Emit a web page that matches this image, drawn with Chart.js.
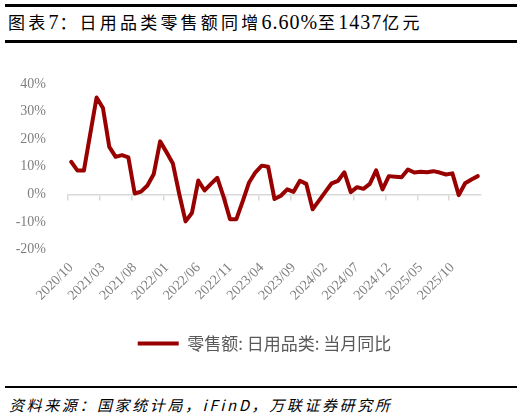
<!DOCTYPE html>
<html>
<head>
<meta charset="utf-8">
<script src="https://cdn.jsdelivr.net/npm/chart.js@4.4.1/dist/chart.umd.min.js"></script>
<style>
  body { margin:0; background:#fff; width:529px; height:419px; overflow:hidden; position:relative; }
  .rule { position:absolute; left:5px; width:512px; background:#000; }
  #title { position:absolute; left:8px; top:9px; white-space:nowrap; color:#000; }
  #title .cn { font-family:"Noto Sans CJK SC"; font-size:17px; letter-spacing:3.2px; }
  #title .num { font-family:"Liberation Serif"; font-size:20px; letter-spacing:1px; }
  #box { position:absolute; left:0; top:44px; width:529px; height:318px; }
  #source { position:absolute; left:9px; top:394px; font-family:"Noto Sans CJK SC"; font-size:15px; font-style:italic; letter-spacing:2.6px; color:#000; white-space:nowrap; }
</style>
</head>
<body>
<div class="rule" style="top:4px;height:2.5px"></div>
<div id="title"><span class="cn">图表</span><span class="num">7</span><span class="cn">：日用品类零售额同增</span><span class="num">6.60%</span><span class="cn">至</span><span class="num">1437</span><span class="cn">亿元</span></div>
<div class="rule" style="top:40px;height:2.5px"></div>
<div id="box"><canvas id="chart"></canvas></div>
<div class="rule" style="top:385.5px;height:2.5px"></div>
<div id="source">资料来源：国家统计局，iFinD，万联证券研究所</div>
<script>
// months on the category axis, one label shown every 5
const months = [
  "2020/10","2020/11","2020/12","2021/01","2021/02","2021/03","2021/04","2021/05","2021/06","2021/07",
  "2021/08","2021/09","2021/10","2021/11","2021/12","2022/01","2022/02","2022/03","2022/04","2022/05",
  "2022/06","2022/07","2022/08","2022/09","2022/10","2022/11","2022/12","2023/01","2023/02","2023/03",
  "2023/04","2023/05","2023/06","2023/07","2023/08","2023/09","2023/10","2023/11","2023/12","2024/01",
  "2024/02","2024/03","2024/04","2024/05","2024/06","2024/07","2024/08","2024/09","2024/10","2024/11",
  "2024/12","2025/01","2025/02","2025/03","2025/04","2025/05","2025/06","2025/07","2025/08","2025/09",
  "2025/10","2025/11","2025/12","2026/01","2026/02"
];

// 零售额:日用品类:当月同比 (%)
const dailyGoodsYoY = [
  11.8, 8.6, 8.6, 21.9, 35.1, 31.3, 17.2, 13.6, 14.2, 13.4,
  0.3, 1.0, 3.2, 7.4, 19.2, 15.3, 11.2, 0.2, -9.8, -6.8,
  5.0, 1.4, 3.8, 6.0, -1.0, -9.0, -9.0, -2.5, 4.3, 8.0,
  10.4, 10.0, -1.7, -0.5, 1.8, 0.9, 4.9, 3.8, -5.4, -2.3,
  0.9, 4.0, 4.9, 8.0, 0.8, 2.6, 2.0, 3.8, 8.7, 1.8,
  6.6, 6.4, 6.2, 9.0, 7.9, 8.2, 8.0, 8.4, 7.9, 7.2,
  7.6, -0.3, 4.0, 5.4, 6.6
];

const yMin = -20, yMax = 40, yStep = 10;
const labelEvery = 5;

const red = "#990000";
const grey = "#7f7f7f";
const axisGrey = "#d9d9d9";

new Chart(document.getElementById("chart"), {
  type: "line",
  data: {
    labels: months,
    datasets: [{
      label: "零售额: 日用品类: 当月同比",
      data: dailyGoodsYoY,
      xAxisID: "x",
      yAxisID: "y",
      borderColor: red,
      backgroundColor: red,
      borderWidth: 4,
      borderJoinStyle: "round",
      borderCapStyle: "round",
      pointRadius: 0,
      tension: 0
    }]
  },
  options: {
    responsive: true,
    maintainAspectRatio: false,
    animation: false,
    layout: { padding: { top: 40, right: 0, left: 0, bottom: 0 } },
    plugins: {
      tooltip: { enabled: false },
      legend: {
        position: "bottom",
        labels: {
          usePointStyle: true,
          pointStyle: "line",
          pointStyleWidth: 41,
          color: "#595959",
          font: { family: "Noto Sans CJK SC", size: 17 },
          padding: 10
        }
      }
    },
    scales: {
      x: {
        type: "category",
        offset: true,
        grid: { display: false },
        border: { display: false },
        ticks: {
          autoSkip: false,
          minRotation: 45,
          maxRotation: 45,
          padding: 2,
          color: grey,
          font: { family: "Liberation Serif", size: 14 },
          callback: (v, i) => i % labelEvery === 0 ? months[i] : ""
        },
        afterFit: s => { s.height = 75.5; }
      },
      // zero line with tick marks every 5 months
      x2: {
        type: "category",
        labels: months,
        position: { y: 0 },
        offset: true,
        grid: {
          offset: true,
          drawOnChartArea: false,
          drawTicks: true,
          tickLength: 5,
          lineWidth: 1.5,
          color: c => c.index % labelEvery === 0 ? axisGrey : "rgba(0,0,0,0)"
        },
        border: { color: axisGrey, width: 1.5 },
        ticks: { display: false }
      },
      y: {
        min: yMin,
        max: yMax,
        grid: { display: false },
        border: { display: false },
        ticks: {
          stepSize: yStep,
          padding: 14,
          color: grey,
          font: { family: "Liberation Serif", size: 14 },
          callback: v => v + "%"
        },
        afterFit: s => { s.width = 68; }
      },
      // empty right margin, keeps the legend centred on the whole width
      yRight: {
        position: "right",
        min: yMin,
        max: yMax,
        grid: { display: false },
        border: { display: false },
        ticks: { display: false },
        afterFit: s => { s.width = 48; }
      }
    }
  }
});
</script>
</body>
</html>
